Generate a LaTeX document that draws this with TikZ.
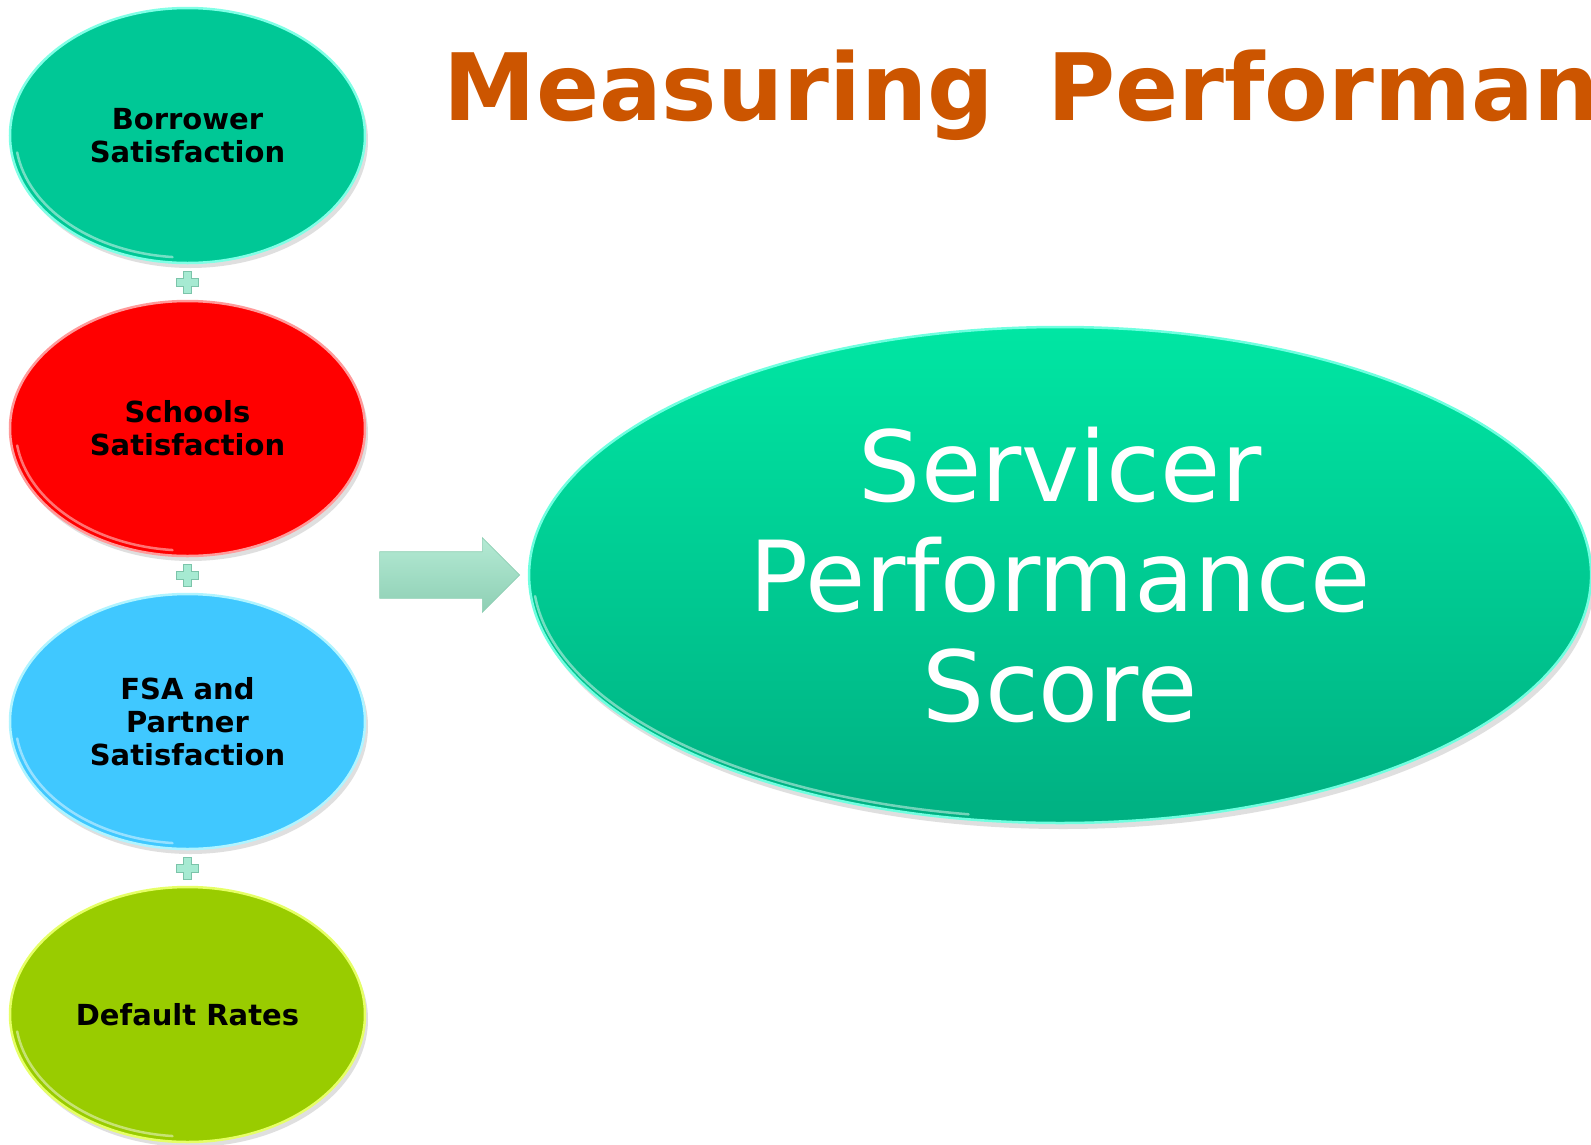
\documentclass[tikz,border=0pt]{standalone}
\usepackage{fontspec}
\setmainfont{DejaVu Sans}
\usetikzlibrary{positioning,shapes.geometric,shapes.arrows,shadows}

\definecolor{titleorange}{HTML}{CC5500}
\definecolor{borteal}{HTML}{00C896}
\definecolor{borrim}{HTML}{80FFE6}
\definecolor{schred}{HTML}{FF0000}
\definecolor{schrim}{HTML}{FF9A9A}
\definecolor{fsablue}{HTML}{40C8FF}
\definecolor{fsarim}{HTML}{B0F4FF}
\definecolor{defgreen}{HTML}{99CC00}
\definecolor{defrim}{HTML}{E6FF66}
\definecolor{scoretop}{HTML}{00E6A3}
\definecolor{scorebot}{HTML}{00B082}
\definecolor{scorerim}{HTML}{70FFE0}
\definecolor{arrowtop}{HTML}{B4EAD4}
\definecolor{arrowbot}{HTML}{8ECFB4}
\definecolor{plusmint}{HTML}{A6EAD2}
\definecolor{plusedge}{HTML}{7CC4AA}

\begin{document}
\begin{tikzpicture}[x=1pt, y=-1pt,
    measure/.style={ellipse, minimum width=355pt, minimum height=255pt,
        inner sep=0pt, outer sep=0pt, line width=2.5pt, align=center,
        font=\bfseries\fontsize{29}{33}\selectfont,
        drop shadow={shadow xshift=3pt, shadow yshift=-5pt, opacity=.25}},
    gloss/.style={white, opacity=.45, line width=2.5pt, line cap=round},
    plussign/.style={fill=plusmint, draw=plusedge, line width=.6pt},
    bigarrow/.style={single arrow, single arrow head extend=14pt,
        minimum height=140pt, inner sep=0pt, text height=46pt, text depth=0pt,
        top color=arrowtop, bottom color=arrowbot, draw=arrowbot, line width=.6pt},
    score/.style={ellipse, minimum width=1062pt, minimum height=496pt,
        inner sep=0pt, outer sep=0pt, line width=2.5pt, align=center,
        top color=scoretop, bottom color=scorebot, draw=scorerim, text=white,
        font=\fontsize{98}{110}\selectfont,
        drop shadow={shadow xshift=3pt, shadow yshift=-6pt, opacity=.25}}]
    \fill[white] (0,0) rectangle (1591,1144);
    \path[use as bounding box, clip] (0,0) rectangle (1591,1144);

    % the four measures
    \node (bor) [measure, fill=borteal, draw=borrim] at (187.5,135.5) {Borrower\\Satisfaction};
    \node (sch) [measure, fill=schred, draw=schrim, below=38pt of bor] {Schools\\Satisfaction};
    \node (fsa) [measure, fill=fsablue, draw=fsarim, below=38pt of sch] {FSA and\\Partner\\Satisfaction};
    \node (def) [measure, fill=defgreen, draw=defrim, below=38pt of fsa] {Default Rates};
    \foreach \n in {bor,sch,fsa,def}
        \draw[gloss] (\n.center) ++(95:172 and 122) arc[start angle=95, end angle=172, x radius=172, y radius=122];

    \path (bor) -- (sch) coordinate[midway] (p1);
    \path (sch) -- (fsa) coordinate[midway] (p2);
    \path (fsa) -- (def) coordinate[midway] (p3);
    \foreach \p in {p1,p2,p3}
        \draw[plussign] ([shift={(-4,-11)}]\p) -- ++(8,0) -- ++(0,7) -- ++(7,0) -- ++(0,8)
            -- ++(-7,0) -- ++(0,7) -- ++(-8,0) -- ++(0,-7) -- ++(-7,0) -- ++(0,-8) -- ++(7,0) -- cycle;

    % result
    \node (arr) [bigarrow] at (438,575) {};
    \node (sps) [score, right=9pt of arr] {Servicer\\Performance\\Score};
    \draw[gloss] (sps.center) ++(100:527 and 243) arc[start angle=100, end angle=175, x radius=527, y radius=243];

    \node (title) [anchor=base west, text=titleorange,
        font=\bfseries\fontsize{93}{110}\selectfont] at (440,120) {Measuring\hskip.57em Performance};
\end{tikzpicture}
\end{document}
